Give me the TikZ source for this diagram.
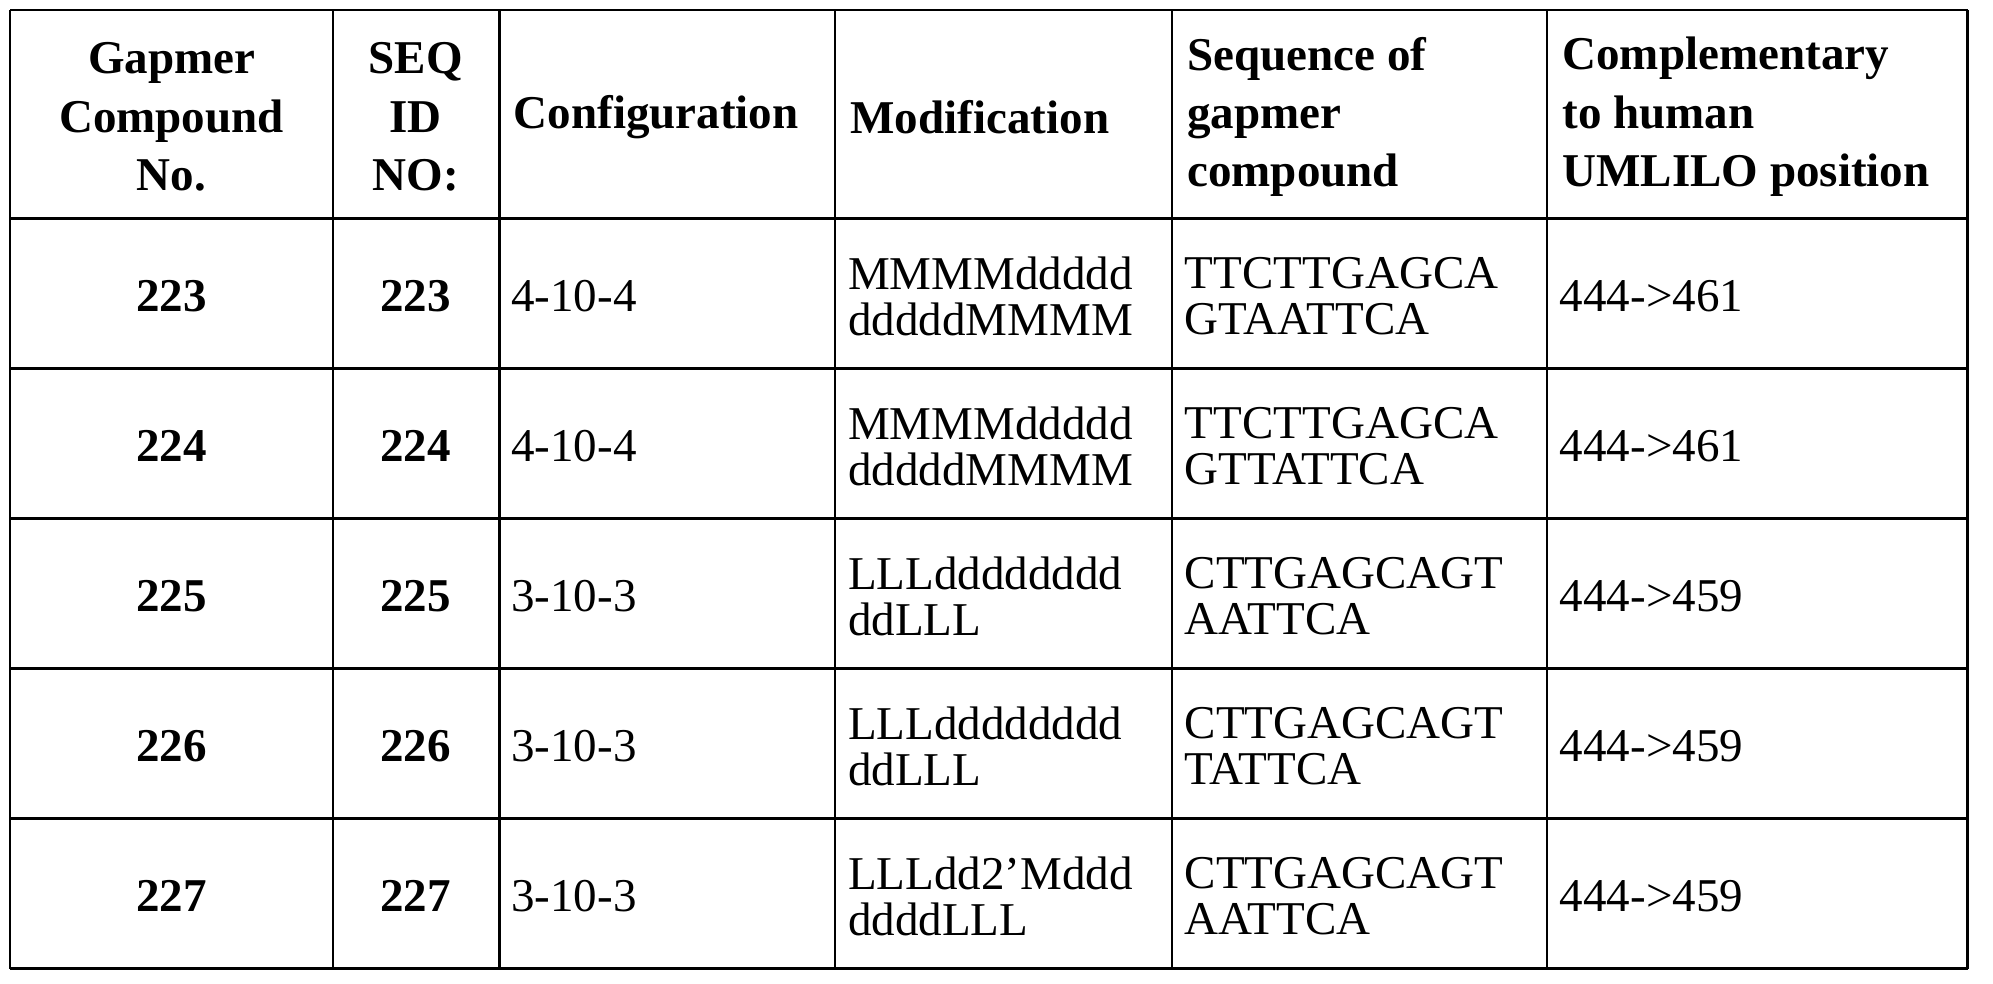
\documentclass[tikz,border=0pt]{standalone}
\usepackage{fontspec}
\setmainfont{Liberation Serif}
\begin{document}
\begin{tikzpicture}[x=1pt,y=-1pt,
  cell/.style={anchor=west,align=left,inner sep=4pt,font=\fontsize{37}{36}\selectfont},
  hcell/.style={anchor=west,align=left,inner sep=4pt,font=\fontsize{37}{46}\selectfont\bfseries},
  ccell/.style={anchor=center,align=center,font=\fontsize{37}{46}\selectfont\bfseries}]
\useasboundingbox (0,0) rectangle (1568,773.4);
\foreach \x in {8,262,393,657,922,1217,1548} \draw[line width=2pt] (\x,8) -- (\x,762);
\foreach \y in {8,172,290,408,526,644,762} \draw[line width=2pt] (8,\y) -- (1548,\y);
\node[ccell] (h1) at (135,92) {Gapmer\\Compound\\No.};
\node[ccell] (h2) at (327,92) {SEQ\\ID\\NO:};
\node[hcell] (h3) at (400,92) {Configuration};
\node[hcell] (h4) at (665,92) {Modification};
\node[hcell] (h5) at (930,92) {Sequence of\\gapmer\\compound};
\node[hcell] (h6) at (1225,92) {Complementary\\to human\\UMLILO position};
\foreach \i/\n/\c/\m/\s/\p in {0/223/4-10-4/{MMMMddddd\\dddddMMMM}/{TTCTTGAGCA\\GTAATTCA}/444->461,
  1/224/4-10-4/{MMMMddddd\\dddddMMMM}/{TTCTTGAGCA\\GTTATTCA}/444->461,
  2/225/3-10-3/{LLLdddddddd\\ddLLL}/{CTTGAGCAGT\\AATTCA}/444->459,
  3/226/3-10-3/{LLLdddddddd\\ddLLL}/{CTTGAGCAGT\\TATTCA}/444->459,
  4/227/3-10-3/{LLLdd2’Mddd\\ddddLLL}/{CTTGAGCAGT\\AATTCA}/444->459}{
  \pgfmathsetmacro\yy{233+118*\i}
  \node[ccell] (a\i) at (135,\yy) {\n};
  \node[ccell] (b\i) at (327,\yy) {\n};
  \node[cell] (c\i) at (398,\yy) {\c};
  \node[cell] (d\i) at (663,\yy) {\m};
  \node[cell] (e\i) at (928,\yy) {\s};
  \node[cell] (f\i) at (1223,\yy) {\p};
}
\end{tikzpicture}
\end{document}
